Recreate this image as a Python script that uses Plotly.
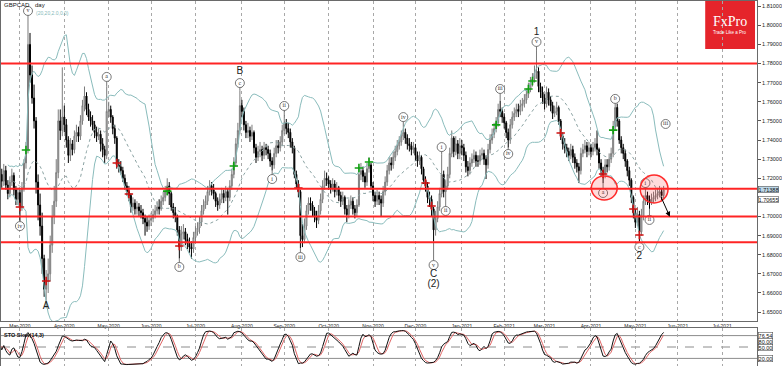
import numpy as np
import pandas as pd
import plotly.graph_objects as go

# ---------------- data (GBPCAD daily) ----------------
opens = [
1.7200,1.7220,1.7185,1.7240,1.7165,1.7120,1.7180,1.7215,1.7140,1.7090,
1.7125,1.7045,1.7150,1.7280,1.7350,1.7900,1.7740,1.7620,1.7500,1.7180,
1.7060,1.6950,1.6780,1.6620,1.6660,1.6700,1.6850,1.7000,1.7080,1.7230,
1.7500,1.7450,1.7520,1.7480,1.7400,1.7320,1.7380,1.7350,1.7420,1.7440,
1.7420,1.7500,1.7580,1.7630,1.7560,1.7520,1.7500,1.7480,1.7440,1.7420,
1.7430,1.7380,1.7350,1.7320,1.7550,1.7560,1.7520,1.7460,1.7410,1.7270,
1.7260,1.7240,1.7200,1.7160,1.7130,1.7110,1.7050,1.7070,1.7040,1.7050,
1.7030,1.7020,1.6990,1.6970,1.6950,1.6980,1.6990,1.7010,1.7030,1.7050,
1.7040,1.7080,1.7100,1.7130,1.7160,1.7120,1.7050,1.7020,1.7000,1.6930,
1.6840,1.6910,1.6920,1.6880,1.6860,1.6840,1.6830,1.6890,1.6920,1.6940,
1.6970,1.7030,1.7060,1.7080,1.7130,1.7160,1.7140,1.7120,1.7080,1.7060,
1.7090,1.7120,1.7100,1.7130,1.7100,1.7160,1.7220,1.7280,1.7380,1.7450,
1.7580,1.7550,1.7480,1.7440,1.7450,1.7420,1.7440,1.7360,1.7310,1.7340,
1.7350,1.7320,1.7360,1.7350,1.7330,1.7290,1.7270,1.7330,1.7370,1.7360,
1.7390,1.7450,1.7490,1.7460,1.7440,1.7390,1.7360,1.7220,1.7170,1.7130,
1.6900,1.6880,1.6950,1.7030,1.7070,1.7060,1.7030,1.7000,1.6980,1.7030,
1.7090,1.7160,1.7200,1.7190,1.7170,1.7150,1.7170,1.7130,1.7150,1.7110,
1.7080,1.7100,1.7040,1.7010,1.7060,1.7080,1.7040,1.7020,1.7060,1.7220,
1.7240,1.7210,1.7180,1.7250,1.7270,1.7160,1.7110,1.7080,1.7110,1.7090,
1.7070,1.7130,1.7180,1.7240,1.7280,1.7270,1.7310,1.7340,1.7370,1.7390,
1.7420,1.7440,1.7410,1.7380,1.7370,1.7350,1.7360,1.7320,1.7290,1.7310,
1.7250,1.7190,1.7160,1.7100,1.7090,1.7040,1.6930,1.6990,1.7050,1.7120,
1.7220,1.7130,1.7160,1.7220,1.7330,1.7410,1.7340,1.7380,1.7330,1.7370,
1.7360,1.7320,1.7260,1.7240,1.7280,1.7300,1.7320,1.7290,1.7290,1.7320,
1.7330,1.7300,1.7270,1.7350,1.7400,1.7430,1.7460,1.7490,1.7560,1.7550,
1.7520,1.7490,1.7440,1.7400,1.7480,1.7520,1.7540,1.7560,1.7550,1.7580,
1.7590,1.7610,1.7640,1.7670,1.7700,1.7720,1.7750,1.7760,1.7680,1.7650,
1.7620,1.7590,1.7650,1.7610,1.7580,1.7540,1.7550,1.7570,1.7500,1.7420,
1.7380,1.7360,1.7340,1.7320,1.7350,1.7310,1.7280,1.7260,1.7240,1.7330,
1.7350,1.7370,1.7340,1.7360,1.7340,1.7360,1.7380,1.7350,1.7280,1.7240,
1.7220,1.7270,1.7260,1.7300,1.7330,1.7470,1.7570,1.7500,1.7400,1.7360,
1.7330,1.7290,1.7240,1.7190,1.7100,1.7020,1.6970,1.7010,1.6920,1.7000,
1.7080,1.7110,1.7090,1.7070,1.7090,1.7100,1.7110,1.7120,1.7130,1.7110]

highs = [
1.7260,1.7250,1.7275,1.7265,1.7190,1.7210,1.7250,1.7230,1.7160,1.7150,
1.7140,1.7180,1.7300,1.7390,1.8060,1.7960,1.7790,1.7690,1.7520,1.7220,
1.7120,1.7020,1.6800,1.6720,1.6780,1.6900,1.7060,1.7160,1.7300,1.7560,
1.7560,1.7780,1.7580,1.7510,1.7420,1.7410,1.7400,1.7450,1.7480,1.7470,
1.7530,1.7610,1.7680,1.7650,1.7590,1.7550,1.7530,1.7500,1.7470,1.7460,
1.7450,1.7410,1.7370,1.7680,1.7600,1.7580,1.7530,1.7480,1.7420,1.7300,
1.7290,1.7260,1.7220,1.7180,1.7160,1.7120,1.7100,1.7090,1.7080,1.7070,
1.7060,1.7040,1.7010,1.7000,1.7010,1.7020,1.7040,1.7060,1.7080,1.7090,
1.7110,1.7130,1.7160,1.7200,1.7180,1.7130,1.7070,1.7050,1.7010,1.6950,
1.6950,1.6960,1.6940,1.6910,1.6890,1.6870,1.6920,1.6950,1.6970,1.7000,
1.7060,1.7090,1.7110,1.7160,1.7190,1.7180,1.7170,1.7130,1.7100,1.7120,
1.7150,1.7140,1.7160,1.7150,1.7190,1.7250,1.7310,1.7410,1.7490,1.7660,
1.7610,1.7570,1.7500,1.7490,1.7470,1.7480,1.7450,1.7380,1.7370,1.7390,
1.7370,1.7390,1.7380,1.7370,1.7350,1.7310,1.7360,1.7400,1.7400,1.7420,
1.7480,1.7526,1.7510,1.7490,1.7460,1.7410,1.7370,1.7240,1.7190,1.7140,
1.6960,1.6990,1.7060,1.7100,1.7100,1.7080,1.7050,1.7030,1.7060,1.7120,
1.7190,1.7240,1.7230,1.7210,1.7190,1.7200,1.7190,1.7180,1.7160,1.7130,
1.7130,1.7110,1.7060,1.7090,1.7110,1.7100,1.7060,1.7090,1.7260,1.7280,
1.7260,1.7230,1.7280,1.7310,1.7280,1.7180,1.7130,1.7140,1.7130,1.7110,
1.7160,1.7210,1.7270,1.7310,1.7310,1.7340,1.7370,1.7400,1.7420,1.7450,
1.7470,1.7460,1.7430,1.7410,1.7390,1.7390,1.7380,1.7340,1.7340,1.7320,
1.7260,1.7210,1.7180,1.7130,1.7110,1.7050,1.7030,1.7080,1.7150,1.7325,
1.7240,1.7190,1.7260,1.7360,1.7450,1.7420,1.7420,1.7400,1.7410,1.7400,
1.7380,1.7340,1.7290,1.7310,1.7330,1.7350,1.7340,1.7320,1.7350,1.7360,
1.7350,1.7320,1.7380,1.7430,1.7460,1.7490,1.7520,1.7590,1.7605,1.7570,
1.7540,1.7500,1.7460,1.7510,1.7550,1.7570,1.7590,1.7590,1.7610,1.7620,
1.7640,1.7670,1.7700,1.7730,1.7750,1.7790,1.7866,1.7780,1.7700,1.7680,
1.7640,1.7680,1.7670,1.7630,1.7600,1.7580,1.7600,1.7580,1.7510,1.7440,
1.7410,1.7380,1.7360,1.7380,1.7370,1.7330,1.7300,1.7280,1.7360,1.7380,
1.7400,1.7390,1.7390,1.7380,1.7390,1.7410,1.7450,1.7360,1.7300,1.7260,
1.7300,1.7300,1.7330,1.7360,1.7500,1.7605,1.7590,1.7510,1.7420,1.7380,
1.7350,1.7300,1.7260,1.7200,1.7110,1.7040,1.7050,1.7030,1.7040,1.7110,
1.7149,1.7130,1.7110,1.7120,1.7130,1.7140,1.7150,1.7160,1.7150,1.7160]

lows = [
1.7170,1.7150,1.7160,1.7140,1.7090,1.7100,1.7160,1.7110,1.7060,1.7060,
1.6975,1.7030,1.7130,1.7250,1.7330,1.7700,1.7590,1.7460,1.7120,1.6980,
1.6900,1.6700,1.6580,1.6520,1.6600,1.6660,1.6810,1.6960,1.7050,1.7200,
1.7400,1.7420,1.7440,1.7360,1.7280,1.7290,1.7320,1.7330,1.7390,1.7390,
1.7400,1.7480,1.7550,1.7530,1.7500,1.7470,1.7450,1.7410,1.7390,1.7400,
1.7340,1.7310,1.7280,1.7300,1.7520,1.7490,1.7430,1.7380,1.7250,1.7230,
1.7220,1.7180,1.7140,1.7110,1.7080,1.7020,1.7030,1.7010,1.7010,1.7000,
1.6990,1.6960,1.6900,1.6920,1.6930,1.6950,1.6970,1.6990,1.7010,1.7010,
1.7030,1.7060,1.7080,1.7110,1.7060,1.7030,1.6990,1.6970,1.6900,1.6780,
1.6820,1.6880,1.6850,1.6830,1.6810,1.6780,1.6810,1.6860,1.6900,1.6910,
1.6950,1.7010,1.7040,1.7060,1.7110,1.7110,1.7090,1.7050,1.7030,1.7040,
1.7070,1.7070,1.7080,1.7010,1.7080,1.7140,1.7200,1.7260,1.7360,1.7430,
1.7520,1.7450,1.7410,1.7410,1.7390,1.7400,1.7330,1.7280,1.7290,1.7310,
1.7290,1.7300,1.7320,1.7300,1.7260,1.7240,1.7250,1.7310,1.7330,1.7340,
1.7370,1.7430,1.7430,1.7410,1.7360,1.7330,1.7200,1.7150,1.7100,1.6835,
1.6840,1.6860,1.6930,1.7010,1.7030,1.7000,1.6970,1.6940,1.6960,1.7010,
1.7070,1.7140,1.7160,1.7140,1.7120,1.7130,1.7100,1.7110,1.7080,1.7050,
1.7060,1.7010,1.6970,1.6990,1.7040,1.7010,1.6990,1.7000,1.7050,1.7190,
1.7180,1.7150,1.7160,1.7230,1.7140,1.7080,1.7050,1.7060,1.7060,1.7000,
1.7050,1.7110,1.7160,1.7220,1.7240,1.7250,1.7290,1.7320,1.7350,1.7370,
1.7400,1.7380,1.7350,1.7340,1.7320,1.7330,1.7290,1.7260,1.7270,1.7220,
1.7170,1.7130,1.7070,1.7050,1.7000,1.6870,1.6900,1.6970,1.7030,1.7100,
1.7100,1.7045,1.7140,1.7200,1.7310,1.7310,1.7320,1.7300,1.7300,1.7320,
1.7290,1.7230,1.7210,1.7220,1.7260,1.7280,1.7260,1.7260,1.7270,1.7300,
1.7270,1.7196,1.7250,1.7330,1.7380,1.7410,1.7440,1.7470,1.7520,1.7490,
1.7460,1.7410,1.7360,1.7380,1.7460,1.7500,1.7520,1.7520,1.7530,1.7550,
1.7570,1.7590,1.7620,1.7650,1.7680,1.7700,1.7720,1.7650,1.7620,1.7590,
1.7560,1.7570,1.7580,1.7550,1.7510,1.7520,1.7530,1.7480,1.7400,1.7350,
1.7330,1.7310,1.7290,1.7300,1.7280,1.7250,1.7230,1.7175,1.7220,1.7310,
1.7330,1.7310,1.7320,1.7310,1.7320,1.7340,1.7320,1.7250,1.7210,1.7174,
1.7200,1.7230,1.7240,1.7280,1.7310,1.7450,1.7470,1.7380,1.7330,1.7300,
1.7260,1.7210,1.7160,1.7070,1.6990,1.6940,1.6950,1.6870,1.6900,1.6980,
1.7060,1.7060,1.7040,1.7060,1.7070,1.7080,1.7090,1.7100,1.7080,1.7090]

closes = [
1.7220,1.7185,1.7240,1.7165,1.7120,1.7180,1.7215,1.7140,1.7090,1.7125,
1.7045,1.7150,1.7280,1.7350,1.7900,1.7740,1.7620,1.7500,1.7180,1.7060,
1.6950,1.6780,1.6620,1.6660,1.6700,1.6850,1.7000,1.7080,1.7230,1.7500,
1.7450,1.7520,1.7480,1.7400,1.7320,1.7380,1.7350,1.7420,1.7440,1.7420,
1.7500,1.7580,1.7630,1.7560,1.7520,1.7500,1.7480,1.7440,1.7420,1.7430,
1.7380,1.7350,1.7320,1.7550,1.7560,1.7520,1.7460,1.7410,1.7270,1.7260,
1.7240,1.7200,1.7160,1.7130,1.7110,1.7050,1.7070,1.7040,1.7050,1.7030,
1.7020,1.6990,1.6970,1.6950,1.6980,1.6990,1.7010,1.7030,1.7050,1.7040,
1.7080,1.7100,1.7130,1.7160,1.7120,1.7050,1.7020,1.7000,1.6930,1.6840,
1.6910,1.6920,1.6880,1.6860,1.6840,1.6830,1.6890,1.6920,1.6940,1.6970,
1.7030,1.7060,1.7080,1.7130,1.7160,1.7140,1.7120,1.7080,1.7060,1.7090,
1.7120,1.7100,1.7130,1.7100,1.7160,1.7220,1.7280,1.7380,1.7450,1.7580,
1.7550,1.7480,1.7440,1.7450,1.7420,1.7440,1.7360,1.7310,1.7340,1.7350,
1.7320,1.7360,1.7350,1.7330,1.7290,1.7270,1.7330,1.7370,1.7360,1.7390,
1.7450,1.7490,1.7460,1.7440,1.7390,1.7360,1.7220,1.7170,1.7130,1.6900,
1.6880,1.6950,1.7030,1.7070,1.7060,1.7030,1.7000,1.6980,1.7030,1.7090,
1.7160,1.7200,1.7190,1.7170,1.7150,1.7170,1.7130,1.7150,1.7110,1.7080,
1.7100,1.7040,1.7010,1.7060,1.7080,1.7040,1.7020,1.7060,1.7220,1.7240,
1.7210,1.7180,1.7250,1.7270,1.7160,1.7110,1.7080,1.7110,1.7090,1.7070,
1.7130,1.7180,1.7240,1.7280,1.7270,1.7310,1.7340,1.7370,1.7390,1.7420,
1.7440,1.7410,1.7380,1.7370,1.7350,1.7360,1.7320,1.7290,1.7310,1.7250,
1.7190,1.7160,1.7100,1.7090,1.7040,1.6930,1.6990,1.7050,1.7120,1.7220,
1.7130,1.7160,1.7220,1.7330,1.7410,1.7340,1.7380,1.7330,1.7370,1.7360,
1.7320,1.7260,1.7240,1.7280,1.7300,1.7320,1.7290,1.7290,1.7320,1.7330,
1.7300,1.7270,1.7350,1.7400,1.7430,1.7460,1.7490,1.7560,1.7550,1.7520,
1.7490,1.7440,1.7400,1.7480,1.7520,1.7540,1.7560,1.7550,1.7580,1.7590,
1.7610,1.7640,1.7670,1.7700,1.7720,1.7750,1.7760,1.7680,1.7650,1.7620,
1.7590,1.7650,1.7610,1.7580,1.7540,1.7550,1.7570,1.7500,1.7420,1.7380,
1.7360,1.7340,1.7320,1.7350,1.7310,1.7280,1.7260,1.7240,1.7330,1.7350,
1.7370,1.7340,1.7360,1.7340,1.7360,1.7380,1.7350,1.7280,1.7240,1.7220,
1.7270,1.7260,1.7300,1.7330,1.7470,1.7570,1.7500,1.7400,1.7360,1.7330,
1.7290,1.7240,1.7190,1.7100,1.7020,1.6970,1.7010,1.6920,1.7000,1.7080,
1.7110,1.7090,1.7070,1.7090,1.7100,1.7110,1.7120,1.7130,1.7110,1.71388]

first_day = "2020-02-17"                      # first bar on the chart
levels = [1.7800, 1.7145, 1.7000, 1.6865]     # red horizontal levels
price_ticks = [1.65, 1.66, 1.67, 1.68, 1.69, 1.70, 1.71, 1.72, 1.73,
               1.74, 1.75, 1.76, 1.77, 1.78, 1.79, 1.80, 1.81]
price_tick_text = ["1.65000", "1.66000", "1.67000", "1.68000", "1.69000", "1.70000", "",
                   "1.72000", "1.73000", "1.74000", "1.75000", "1.76000", "1.77000",
                   "1.78000", "1.79000", "1.80000", "1.81000"]

sell_idx = [10, 23, 58, 64, 89, 148, 211, 214, 278, 299, 314, 317]
sell_px = [1.7050, 1.6663, 1.7280, 1.7118, 1.6846, 1.7149, 1.7175, 1.7055,
           1.7437, 1.7222, 1.7039, 1.6903]
buy_idx = [13, 83, 116, 178, 183, 246, 262, 264, 304]
buy_px = [1.7348, 1.7133, 1.7264, 1.7254, 1.7285, 1.7479, 1.7667, 1.7709, 1.7452]

wave_txt = ['iv', 'v', 'a', 'b', 'c', 'i', 'ii', 'iii', 'iv', 'v', 'i', 'ii',
            'iii', 'iv', 'v', 'a', 'b', 'c', 'i', 'ii', 'iii']
wave_idx = [10, 14, 53, 89, 119, 135, 141, 149, 200, 215, 219, 221,
            248, 252, 266, 299, 305, 317, 320, 322, 330]
wave_px = [1.6950, 1.8075, 1.7730, 1.6736, 1.7698, 1.7196, 1.7578, 1.6788,
           1.7520, 1.6746, 1.7363, 1.7029, 1.7667, 1.7327, 1.7913, 1.7123,
           1.7615, 1.6840, 1.7175, 1.6982, 1.7484]
wave_end = ['L', 'H', 'H', 'L', 'H', 'L', 'H', 'L', 'H', 'L', 'H', 'L',
            'H', 'L', 'H', 'L', 'H', 'L', 'H', 'L', '']

big_txt = ['A', 'B', 'C', '(2)', '1', '2']
big_idx = [23, 119, 215, 215, 266, 317]
big_px = [1.6527, 1.7756, 1.6699, 1.6642, 1.7960, 1.6793]

zones_idx = [(293.2, 306.0), (317.4, 331.2)]
zones_px = [(1.7086, 1.7212), (1.7071, 1.7217)]
arrow_from = (327.3, 1.7112)
arrow_to = (332.1, 1.6999)

# ---------------- helpers ----------------
assert len(opens) == len(highs) == len(lows) == len(closes)
days = pd.bdate_range(first_day, periods=420)
dates = days[:len(closes)]


def bx(f):
    i = int(np.floor(f))
    return (days[i] + pd.Timedelta(days=float(f - i))).strftime("%Y-%m-%d %H:%M:%S")


W, H = 782, 366
ML, MR, MT, MB = 1, 22, 1, 0
PW, PH = W - ML - MR, H - MT - MB


def fx(px):
    return (px - ML) / PW


def fy(py):
    return 1 - (py - MT) / PH


# indicators (Bollinger 20/2, Stochastic 14,3,3)
c = pd.Series(closes)
hi = pd.Series(highs)
lo = pd.Series(lows)
mid = c.rolling(20, min_periods=5).mean()
sd = c.rolling(20, min_periods=5).std(ddof=0)
bb_up = mid + 2 * sd
bb_dn = mid - 2 * sd
ll = lo.rolling(14, min_periods=1).min()
hh = hi.rolling(14, min_periods=1).max()
k_main = 100 * (c - ll).rolling(3, min_periods=1).sum() / (hh - ll).rolling(3, min_periods=1).sum()
k_sig = k_main.rolling(3, min_periods=1).mean()

# month ticks
tick_vals, tick_text = [], []
for i in range(1, 380):
    if days[i].month != days[i - 1].month:
        tick_vals.append(days[i].strftime("%Y-%m-%d"))
        tick_text.append(days[i].strftime("%b-%Y"))

fig = go.Figure()

fig.add_trace(go.Candlestick(
    x=dates, open=opens, high=highs, low=lows, close=closes,
    increasing=dict(line=dict(color="#7c7c7c", width=1), fillcolor="#d2d2d2"),
    decreasing=dict(line=dict(color="#000000", width=1), fillcolor="#000000"),
    whiskerwidth=0, showlegend=False, hoverinfo="skip", xaxis="x", yaxis="y"))

for s in (bb_up, bb_dn):
    fig.add_trace(go.Scatter(x=dates, y=s, mode="lines", hoverinfo="skip",
                             line=dict(color="#8abcbc", width=1),
                             showlegend=False, xaxis="x", yaxis="y"))
fig.add_trace(go.Scatter(x=dates, y=mid, mode="lines", hoverinfo="skip",
                         line=dict(color="#8aa2a2", width=1, dash="dot"),
                         showlegend=False, xaxis="x", yaxis="y"))

# stems of the wave labels
sx, sy = [], []
for t, i, p, e in zip(wave_txt, wave_idx, wave_px, wave_end):
    if e:
        anchor = highs[i] if e == 'H' else lows[i]
        sx += [bx(i), bx(i), None]
        sy += [p, anchor, None]
fig.add_trace(go.Scatter(x=sx, y=sy, mode="lines", line=dict(color="#555555", width=0.8),
                         hoverinfo="skip", showlegend=False, xaxis="x", yaxis="y"))

fig.add_trace(go.Scatter(x=[bx(i) for i in sell_idx], y=sell_px, mode="markers",
                         marker=dict(symbol="cross-thin", size=6, line=dict(color="#d01010", width=1.6)),
                         hoverinfo="skip", showlegend=False, xaxis="x", yaxis="y"))
fig.add_trace(go.Scatter(x=[bx(i) for i in buy_idx], y=buy_px, mode="markers",
                         marker=dict(symbol="cross-thin", size=6, line=dict(color="#10a010", width=1.6)),
                         hoverinfo="skip", showlegend=False, xaxis="x", yaxis="y"))

fig.add_trace(go.Scatter(x=[bx(i) for i in wave_idx], y=wave_px, mode="markers+text",
                         text=wave_txt, textposition="middle center",
                         textfont=dict(family="Liberation Serif", size=6, color="#333333"),
                         marker=dict(symbol="circle", size=9, color="white",
                                     line=dict(color="#555555", width=0.8)),
                         hoverinfo="skip", showlegend=False, xaxis="x", yaxis="y"))
fig.add_trace(go.Scatter(x=[bx(i) for i in big_idx], y=big_px, mode="text", text=big_txt,
                         textposition="middle center",
                         textfont=dict(family="Liberation Sans", size=10, color="#222222"),
                         hoverinfo="skip", showlegend=False, xaxis="x", yaxis="y"))

# stochastic
fig.add_trace(go.Scatter(x=dates, y=k_sig, mode="lines", line=dict(color="#e06666", width=1),
                         hoverinfo="skip", showlegend=False, xaxis="x2", yaxis="y2"))
fig.add_trace(go.Scatter(x=dates, y=k_main, mode="lines", line=dict(color="#111111", width=1),
                         hoverinfo="skip", showlegend=False, xaxis="x2", yaxis="y2"))

shapes = []
for lv in levels:
    shapes.append(dict(type="line", xref="x domain", yref="y", x0=0, x1=1, y0=lv, y1=lv,
                       line=dict(color="#ff2424", width=2), layer="above"))
for (a, b), (p0, p1) in zip(zones_idx, zones_px):
    shapes.append(dict(type="circle", xref="x", yref="y", x0=bx(a), x1=bx(b), y0=p0, y1=p1,
                       fillcolor="rgba(255,40,40,0.16)", line=dict(color="#ff2a2a", width=1.5),
                       layer="above"))
for lv, dash in ((80, "solid"), (50, "dash"), (20, "solid")):
    shapes.append(dict(type="line", xref="x2 domain", yref="y2", x0=0, x1=1, y0=lv, y1=lv,
                       line=dict(color="#8c8c8c", width=1, dash=dash), layer="below"))
# FxPro logo box
shapes.append(dict(type="rect", xref="paper", yref="paper", x0=fx(708), x1=fx(758),
                   y0=fy(49), y1=1.01, fillcolor="#e5242b", line=dict(width=0), layer="below"))

ann = []
ann.append(dict(xref="paper", yref="paper", x=fx(733), y=fy(21), xanchor="center", yanchor="middle",
                text="FxPro", showarrow=False,
                font=dict(family="Liberation Serif", size=14, color="white")))
ann.append(dict(xref="paper", yref="paper", x=fx(733), y=fy(33), xanchor="center", yanchor="middle",
                text="Trade Like a Pro", showarrow=False,
                font=dict(family="Liberation Sans", size=4.5, color="white")))
ann.append(dict(xref="paper", yref="paper", x=fx(2), y=fy(5), xanchor="left", yanchor="middle",
                text="GBPCAD", showarrow=False,
                font=dict(family="Liberation Sans", size=6, color="#111111")))
ann.append(dict(xref="paper", yref="paper", x=fx(33), y=fy(5), xanchor="left", yanchor="middle",
                text="day", showarrow=False,
                font=dict(family="Liberation Sans", size=6, color="#111111")))
ann.append(dict(xref="paper", yref="paper", x=fx(34), y=fy(12.5), xanchor="left", yanchor="middle",
                text="(20,20,2.0,0.0)", showarrow=False,
                font=dict(family="Liberation Sans", size=5, color="#84b8b8")))
ann.append(dict(xref="paper", yref="paper", x=fx(2), y=fy(334.5), xanchor="left", yanchor="middle",
                text="<b>STO Slow(14,3)</b>", showarrow=False,
                font=dict(family="Liberation Sans", size=5.5, color="#111111")))
for txt, py, bg in (("1.71388", 189.3, "#bcd7e8"), ("1.70655", 199.5, "#ffffff")):
    ann.append(dict(xref="paper", yref="paper", x=fx(761.5), y=fy(py), xanchor="left",
                    yanchor="middle", text=txt,
                    showarrow=False, bgcolor=bg, bordercolor="#555555", borderwidth=0.6, borderpad=0,
                    font=dict(family="Liberation Sans", size=5.5, color="#111111")))
for txt, py in (("76.54", 335), ("80.00", 341.5), ("50.00", 347), ("20.00", 358.7)):
    ann.append(dict(xref="paper", yref="paper", x=fx(761.5), y=fy(py), xanchor="left",
                    yanchor="middle", text=txt,
                    showarrow=False, bgcolor="#ffffff", bordercolor="#555555", borderwidth=0.6,
                    borderpad=0, font=dict(family="Liberation Sans", size=5.5, color="#111111")))
ann.append(dict(x=bx(arrow_to[0]), y=arrow_to[1], ax=bx(arrow_from[0]), ay=arrow_from[1],
                xref="x", yref="y", axref="x", ayref="y", text="", showarrow=True,
                arrowhead=2, arrowsize=1, arrowwidth=1, arrowcolor="#000000"))

axis_common = dict(showline=True, mirror=True, linecolor="#6a6a6a", linewidth=1, zeroline=False)
fig.update_layout(
    width=W, height=H, margin=dict(l=ML, r=MR, t=MT, b=MB),
    paper_bgcolor="white", plot_bgcolor="white", showlegend=False,
    shapes=shapes, annotations=ann,
    xaxis=dict(type="date", domain=[0, 1], anchor="y", range=[bx(0.62), bx(375.28)],
               rangebreaks=[dict(bounds=["sat", "mon"])], rangeslider=dict(visible=False),
               tickmode="array", tickvals=tick_vals, ticktext=tick_text, ticks="",
               tickfont=dict(family="Liberation Sans", size=5, color="#222222"),
               showgrid=True, gridcolor="#a8a8a8", gridwidth=1, griddash="dot", **axis_common),
    yaxis=dict(domain=[fy(321), 1], anchor="x", side="right", range=[1.64535, 1.81271],
               tickmode="array", tickvals=price_ticks, ticktext=price_tick_text, ticks="outside",
               ticklen=3, tickcolor="#555555",
               tickfont=dict(family="Liberation Sans", size=5.5, color="#222222"),
               showgrid=False, **axis_common),
    xaxis2=dict(type="date", domain=[0, 1], anchor="y2", matches="x",
                rangebreaks=[dict(bounds=["sat", "mon"])], showticklabels=False, ticks="",
                tickmode="array", tickvals=tick_vals,
                showgrid=True, gridcolor="#a8a8a8", gridwidth=1, griddash="dot", **axis_common),
    yaxis2=dict(domain=[0, fy(328)], anchor="x2", side="right", range=[0, 100],
                showticklabels=False, ticks="", showgrid=False, **axis_common),
)

fig.write_html("out.html", config={"displayModeBar": False},
               post_script="document.body.style.margin='0px';")
